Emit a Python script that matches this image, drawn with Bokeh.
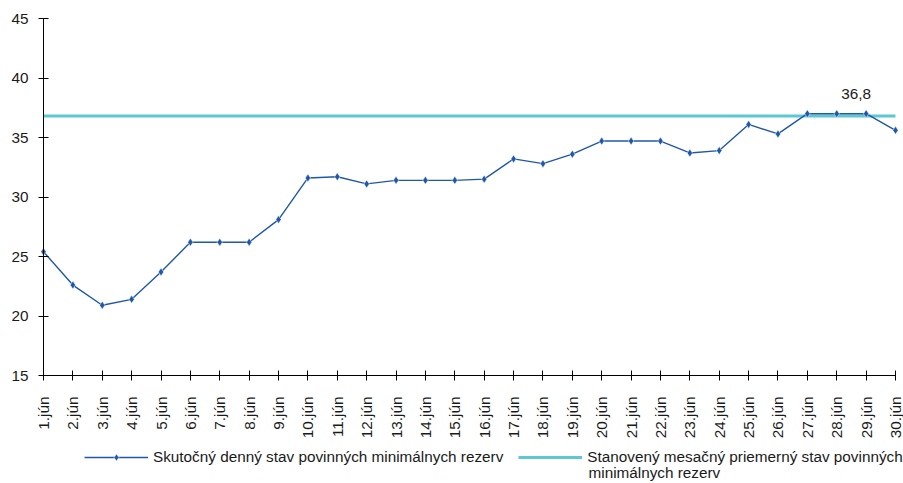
import math
from bokeh.plotting import figure
from bokeh.models import ColumnDataSource, Range1d, FixedTicker, Legend, LegendItem, Label
from bokeh.core.properties import value
from bokeh.embed import file_html
from bokeh.resources import INLINE

# ---- data ----
days = list(range(1, 31))
day_labels = [f"{d}.jún" for d in days]
actual_reserves = [25.4, 22.6, 20.9, 21.4, 23.7, 26.2, 26.2, 26.2, 28.1, 31.6,
                   31.7, 31.1, 31.4, 31.4, 31.4, 31.5, 33.2, 32.8, 33.6, 34.7,
                   34.7, 34.7, 33.7, 33.9, 36.1, 35.3, 37.0, 37.0, 37.0, 35.6]
required_level = 36.8
y_ticks = [15, 20, 25, 30, 35, 40, 45]
y_min, y_max = 15, 45
annot_day = [29]
annot_value = [36.8]
annot_text = ["36,8"]
series_names = ["Skutočný denný stav povinných minimálnych rezerv",
                "Stanovený mesačný priemerný stav povinných"]
series2_name_cont = "minimálnych rezerv"

BLUE = "#1F58A8"
CYAN = "#5CC8D2"
FONT = "Liberation Sans"
FS = "15.3px"

# layout (pixels): frame covers whole canvas, axes are pinned inside it
W, H = 903, 483
LEFT, RIGHT = 43, 895               # pixel columns of first and last day
TOP, AXIS_BOTTOM = 18, 375          # pixel rows of 45 and 15
px_x = (RIGHT - LEFT) / (days[-1] - days[0])
px_y = (AXIS_BOTTOM - TOP) / (y_max - y_min)
x_range = Range1d(days[0] - LEFT / px_x, days[-1] + (W - RIGHT) / px_x)
y_range = Range1d(y_min - (H - AXIS_BOTTOM) / px_y, y_max + TOP / px_y)

src = ColumnDataSource(dict(day=days, actual=actual_reserves,
                            req=[required_level for _ in days]))

p = figure(width=W, height=H, x_range=x_range, y_range=y_range,
           output_backend="svg", toolbar_location=None,
           min_border_left=0, min_border_right=0, min_border_top=0, min_border_bottom=0)
p.xgrid.visible = False
p.ygrid.visible = False
p.outline_line_color = None
p.background_fill_color = "white"

cyan_line = p.line("day", "req", source=src, line_color=CYAN, line_width=3)
blue_line = p.line("day", "actual", source=src, line_color=BLUE, line_width=1.4)
blue_pts = p.scatter("day", "actual", source=src, marker="diamond", size=8,
                     fill_color=BLUE, line_color="white", line_width=0.5)

p.text(x=annot_day, y=annot_value, text=annot_text, x_offset=-10, y_offset=-17,
       text_align="center", text_baseline="bottom", text_font=value(FONT),
       text_font_size=FS, text_color="#1a1a1a")

for ax in (p.xaxis[0], p.yaxis[0]):
    ax.axis_line_color = "black"
    ax.axis_line_width = 1
    ax.major_tick_line_color = "black"
    ax.major_tick_in = 5
    ax.major_tick_out = 5
    ax.minor_tick_line_color = None
    ax.major_label_text_font = FONT
    ax.major_label_text_font_size = FS
    ax.major_label_text_color = "#1a1a1a"

xa = p.xaxis[0]
xa.ticker = FixedTicker(ticks=days)
xa.major_label_overrides = {d: lab for d, lab in zip(days, day_labels)}
xa.major_label_orientation = math.pi / 2
xa.major_label_standoff = 16
xa.fixed_location = y_min
xa.bounds = (days[0], days[-1])

ya = p.yaxis[0]
ya.ticker = FixedTicker(ticks=y_ticks)
ya.major_label_standoff = 10
ya.fixed_location = days[0]
ya.bounds = (y_min, y_max)

legend = Legend(items=[LegendItem(label=series_names[0], renderers=[blue_line, blue_pts]),
                       LegendItem(label=series_names[1], renderers=[cyan_line])],
                orientation="horizontal", location=(84, 17),
                glyph_width=64, glyph_height=18, label_height=18, label_standoff=5, spacing=15,
                padding=0, margin=0, border_line_alpha=0, background_fill_alpha=0,
                label_text_font=FONT, label_text_font_size=FS, label_text_color="#1a1a1a")
p.add_layout(legend)

# wrapped continuation of the second legend entry
p.add_layout(Label(x=days[0] + (588 - LEFT) / px_x, y=y_min - (472 - AXIS_BOTTOM) / px_y,
                   text=series2_name_cont, text_baseline="middle", text_align="left",
                   text_font=FONT, text_font_size=FS, text_color="#1a1a1a"))

open("out.html", "w").write(file_html(p, INLINE))
